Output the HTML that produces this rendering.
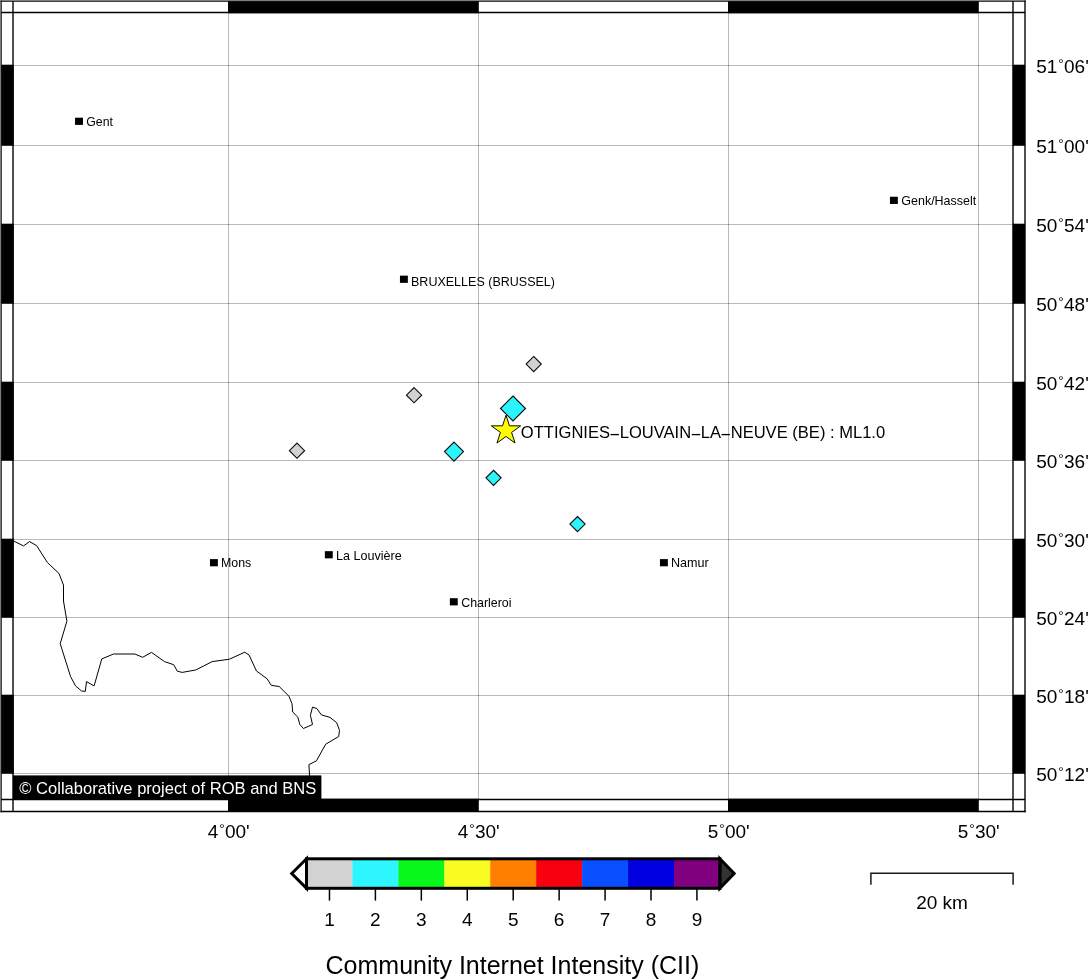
<!DOCTYPE html>
<html lang="en"><head><meta charset="utf-8"><title>Community Internet Intensity (CII)</title>
<style>html,body{margin:0;padding:0;background:#fff}body{width:1088px;height:980px;overflow:hidden}svg{display:block}text{font-family:"Liberation Sans",sans-serif;fill:#000}</style>
</head><body>
<svg width="1088" height="980" viewBox="0 0 1088 980">
<rect width="1088" height="980" fill="#fff"/>
<g stroke="#000" stroke-opacity="0.28" stroke-width="1" fill="none">
<line x1="228.5" y1="12.5" x2="228.5" y2="799.5"/>
<line x1="478.5" y1="12.5" x2="478.5" y2="799.5"/>
<line x1="728.5" y1="12.5" x2="728.5" y2="799.5"/>
<line x1="978.5" y1="12.5" x2="978.5" y2="799.5"/>
<line x1="13.0" y1="65.5" x2="1013.0" y2="65.5"/>
<line x1="13.0" y1="145.5" x2="1013.0" y2="145.5"/>
<line x1="13.0" y1="224.5" x2="1013.0" y2="224.5"/>
<line x1="13.0" y1="303.5" x2="1013.0" y2="303.5"/>
<line x1="13.0" y1="382.5" x2="1013.0" y2="382.5"/>
<line x1="13.0" y1="460.5" x2="1013.0" y2="460.5"/>
<line x1="13.0" y1="539.5" x2="1013.0" y2="539.5"/>
<line x1="13.0" y1="617.5" x2="1013.0" y2="617.5"/>
<line x1="13.0" y1="695.5" x2="1013.0" y2="695.5"/>
<line x1="13.0" y1="773.5" x2="1013.0" y2="773.5"/>
</g>
<polyline fill="none" stroke="#000" stroke-width="1" stroke-linejoin="round" points="13.7,541.0 23.5,545.9 29.6,541.6 36.6,545.6 47.3,562.4 59.0,573.5 63.5,585.1 63.5,601.0 66.9,621.2 60.2,643.7 70.6,676.6 75.5,685.9 81.6,691.0 85.3,691.4 86.5,681.6 94.1,685.9 101.8,658.9 113.5,654.0 134.9,654.0 142.6,657.3 151.5,652.4 164.5,661.6 173.7,664.7 177.3,671.2 182.2,672.4 195.7,670.0 212.2,661.6 229.4,659.2 244.8,652.2 249.1,655.1 256.4,670.9 267.2,678.9 271.2,685.3 279.2,686.5 289.0,696.3 292.0,703.7 292.7,712.0 297.8,717.1 299.8,724.5 303.4,728.5 312.5,724.5 310.4,715.3 312.5,707.1 316.9,708.6 321.4,714.9 330.0,717.4 336.7,722.7 339.5,730.4 338.7,736.5 325.7,744.2 316.4,760.9 308.9,764.6 309.6,776.0"/>
<rect x="75.05" y="117.70" width="7.9" height="7.2" fill="#000"/>
<text x="86.3" y="126" font-size="12.3">Gent</text>
<rect x="889.95" y="196.75" width="7.9" height="7.2" fill="#000"/>
<text x="901.3" y="205" font-size="12.49">Genk/Hasselt</text>
<rect x="399.95" y="275.65" width="7.9" height="7.2" fill="#000"/>
<text x="411.0" y="286" font-size="12.52">BRUXELLES (BRUSSEL)</text>
<rect x="209.95" y="559.10" width="7.9" height="7.2" fill="#000"/>
<text x="221.0" y="567" font-size="12.4">Mons</text>
<rect x="324.85" y="551.15" width="7.9" height="7.2" fill="#000"/>
<text x="336.0" y="560" font-size="12.58">La Louvière</text>
<rect x="449.85" y="598.20" width="7.9" height="7.2" fill="#000"/>
<text x="461.2" y="607" font-size="12.4">Charleroi</text>
<rect x="659.95" y="559.10" width="7.9" height="7.2" fill="#000"/>
<text x="671.0" y="567" font-size="12.58">Namur</text>
<polygon points="506.00,415.20 509.46,425.84 520.65,425.84 511.59,432.42 515.05,443.06 506.00,436.48 496.95,443.06 500.41,432.42 491.35,425.84 502.54,425.84" fill="#ffff00" stroke="#0a0a0a" stroke-width="1.0" stroke-linejoin="miter"/>
<polygon points="533.7,356.45 541.3000000000001,364.05 533.7,371.65000000000003 526.1,364.05" fill="#d2d2d2" stroke="#0a0a0a" stroke-width="1.1"/>
<polygon points="414.05,387.59999999999997 421.65000000000003,395.2 414.05,402.8 406.45,395.2" fill="#d2d2d2" stroke="#0a0a0a" stroke-width="1.1"/>
<polygon points="297.0,443.09999999999997 304.6,450.7 297.0,458.3 289.4,450.7" fill="#d2d2d2" stroke="#0a0a0a" stroke-width="1.1"/>
<polygon points="513.0,396.0 525.5,408.5 513.0,421.0 500.5,408.5" fill="#2bf5fc" stroke="#0a0a0a" stroke-width="1.1"/>
<polygon points="454.0,442.1 463.5,451.6 454.0,461.1 444.5,451.6" fill="#2bf5fc" stroke="#0a0a0a" stroke-width="1.1"/>
<polygon points="493.55,470.25 501.15000000000003,477.85 493.55,485.45000000000005 485.95,477.85" fill="#2bf5fc" stroke="#0a0a0a" stroke-width="1.1"/>
<polygon points="577.5,516.5 585.1,524.1 577.5,531.7 569.9,524.1" fill="#2bf5fc" stroke="#0a0a0a" stroke-width="1.1"/>
<text x="520.85" y="438" font-size="16.56">OTTIGNIES<tspan textLength="11.46" lengthAdjust="spacingAndGlyphs" dx="-0.9" dy="1">-</tspan><tspan dx="-0.9" dy="-1">LOUVAIN</tspan><tspan textLength="11.46" lengthAdjust="spacingAndGlyphs" dx="-0.9" dy="1">-</tspan><tspan dx="-0.9" dy="-1">LA</tspan><tspan textLength="11.46" lengthAdjust="spacingAndGlyphs" dx="-0.9" dy="1">-</tspan><tspan dx="-0.9" dy="-1">NEUVE (BE) : ML1.0</tspan></text>
<rect x="13" y="775.4" width="308.4" height="24.6" fill="#000"/>
<text x="19.3" y="794" font-size="16.55" style="fill:#fff">© Collaborative project of ROB and BNS</text>
<rect x="1.25" y="64.7" width="12.5" height="81.1" fill="#000"/>
<rect x="1.25" y="223.7" width="12.5" height="80.1" fill="#000"/>
<rect x="1.25" y="381.7" width="12.5" height="79.1" fill="#000"/>
<rect x="1.25" y="538.7" width="12.5" height="79.1" fill="#000"/>
<rect x="1.25" y="694.7" width="12.5" height="79.1" fill="#000"/>
<rect x="1012.8" y="64.7" width="12.200000000000045" height="81.1" fill="#000"/>
<rect x="1012.8" y="223.7" width="12.200000000000045" height="80.1" fill="#000"/>
<rect x="1012.8" y="381.7" width="12.200000000000045" height="79.1" fill="#000"/>
<rect x="1012.8" y="538.7" width="12.200000000000045" height="79.1" fill="#000"/>
<rect x="1012.8" y="694.7" width="12.200000000000045" height="79.1" fill="#000"/>
<rect x="228.0" y="1.25" width="250.8" height="12.0" fill="#000"/>
<rect x="728.0" y="1.25" width="250.8" height="12.0" fill="#000"/>
<rect x="228.0" y="798.75" width="250.8" height="12.75" fill="#000"/>
<rect x="728.0" y="798.75" width="250.8" height="12.75" fill="#000"/>
<g stroke="#000" stroke-width="1.5" fill="none">
<line x1="1.1" y1="0.5" x2="1.1" y2="812.25" stroke-width="1.25"/><line x1="0.5" y1="1.15" x2="1025.75" y2="1.15" stroke-width="1.3"/>
<line x1="1025.0" y1="0.5" x2="1025.0" y2="812.25" stroke-width="1.38"/><line x1="0.5" y1="811.5" x2="1025.75" y2="811.5"/>
<line x1="13.0" y1="1.25" x2="13.0" y2="811.5" stroke-width="1.38"/><line x1="1013.0" y1="1.25" x2="1013.0" y2="811.5" stroke-width="1.38"/>
<line x1="1.25" y1="12.5" x2="1025.0" y2="12.5"/><line x1="1.25" y1="799.5" x2="1025.0" y2="799.5"/>
</g>
<text x="1036.25" y="73" font-size="19">51<tspan font-size="13.5" dx="0.9" dy="-5.3">°</tspan><tspan dx="0.35" dy="5.3">06'</tspan></text>
<text x="1036.25" y="153" font-size="19">51<tspan font-size="13.5" dx="0.9" dy="-5.3">°</tspan><tspan dx="0.35" dy="5.3">00'</tspan></text>
<text x="1036.25" y="232" font-size="19">50<tspan font-size="13.5" dx="0.9" dy="-5.3">°</tspan><tspan dx="0.35" dy="5.3">54'</tspan></text>
<text x="1036.25" y="311" font-size="19">50<tspan font-size="13.5" dx="0.9" dy="-5.3">°</tspan><tspan dx="0.35" dy="5.3">48'</tspan></text>
<text x="1036.25" y="390" font-size="19">50<tspan font-size="13.5" dx="0.9" dy="-5.3">°</tspan><tspan dx="0.35" dy="5.3">42'</tspan></text>
<text x="1036.25" y="468" font-size="19">50<tspan font-size="13.5" dx="0.9" dy="-5.3">°</tspan><tspan dx="0.35" dy="5.3">36'</tspan></text>
<text x="1036.25" y="547" font-size="19">50<tspan font-size="13.5" dx="0.9" dy="-5.3">°</tspan><tspan dx="0.35" dy="5.3">30'</tspan></text>
<text x="1036.25" y="625" font-size="19">50<tspan font-size="13.5" dx="0.9" dy="-5.3">°</tspan><tspan dx="0.35" dy="5.3">24'</tspan></text>
<text x="1036.25" y="703" font-size="19">50<tspan font-size="13.5" dx="0.9" dy="-5.3">°</tspan><tspan dx="0.35" dy="5.3">18'</tspan></text>
<text x="1036.25" y="781" font-size="19">50<tspan font-size="13.5" dx="0.9" dy="-5.3">°</tspan><tspan dx="0.35" dy="5.3">12'</tspan></text>
<text x="228.7" y="838" font-size="19" text-anchor="middle">4<tspan font-size="13.5" dx="0.9" dy="-5.3">°</tspan><tspan dx="0.35" dy="5.3">00'</tspan></text>
<text x="478.7" y="838" font-size="19" text-anchor="middle">4<tspan font-size="13.5" dx="0.9" dy="-5.3">°</tspan><tspan dx="0.35" dy="5.3">30'</tspan></text>
<text x="728.7" y="838" font-size="19" text-anchor="middle">5<tspan font-size="13.5" dx="0.9" dy="-5.3">°</tspan><tspan dx="0.35" dy="5.3">00'</tspan></text>
<text x="978.7" y="838" font-size="19" text-anchor="middle">5<tspan font-size="13.5" dx="0.9" dy="-5.3">°</tspan><tspan dx="0.35" dy="5.3">30'</tspan></text>
<rect x="306.50" y="858.8" width="46.23" height="29.5" fill="#d2d2d2"/>
<rect x="352.43" y="858.8" width="46.23" height="29.5" fill="#2ef6ff"/>
<rect x="398.37" y="858.8" width="46.23" height="29.5" fill="#08f81c"/>
<rect x="444.30" y="858.8" width="46.23" height="29.5" fill="#f8fc20"/>
<rect x="490.23" y="858.8" width="46.23" height="29.5" fill="#ff8000"/>
<rect x="536.17" y="858.8" width="46.23" height="29.5" fill="#f80010"/>
<rect x="582.10" y="858.8" width="46.23" height="29.5" fill="#0850ff"/>
<rect x="628.03" y="858.8" width="46.23" height="29.5" fill="#0000e0"/>
<rect x="673.97" y="858.8" width="46.23" height="29.5" fill="#800080"/>
<polygon points="306.5,858.8 291.75,873.55 306.5,888.3" fill="#fff" stroke="#000" stroke-width="3" stroke-miterlimit="10"/>
<polygon points="719.9,858.8 734.15,873.55 719.9,888.3" fill="#333" stroke="#000" stroke-width="3" stroke-miterlimit="10"/>
<rect x="306.5" y="858.8" width="413.4" height="29.5" fill="none" stroke="#000" stroke-width="3"/>
<line x1="329.47" y1="889.3" x2="329.47" y2="900.6" stroke="#000" stroke-width="1.5"/>
<text x="329.47" y="926" font-size="19" text-anchor="middle">1</text>
<line x1="375.40" y1="889.3" x2="375.40" y2="900.6" stroke="#000" stroke-width="1.5"/>
<text x="375.40" y="926" font-size="19" text-anchor="middle">2</text>
<line x1="421.33" y1="889.3" x2="421.33" y2="900.6" stroke="#000" stroke-width="1.5"/>
<text x="421.33" y="926" font-size="19" text-anchor="middle">3</text>
<line x1="467.27" y1="889.3" x2="467.27" y2="900.6" stroke="#000" stroke-width="1.5"/>
<text x="467.27" y="926" font-size="19" text-anchor="middle">4</text>
<line x1="513.20" y1="889.3" x2="513.20" y2="900.6" stroke="#000" stroke-width="1.5"/>
<text x="513.20" y="926" font-size="19" text-anchor="middle">5</text>
<line x1="559.13" y1="889.3" x2="559.13" y2="900.6" stroke="#000" stroke-width="1.5"/>
<text x="559.13" y="926" font-size="19" text-anchor="middle">6</text>
<line x1="605.07" y1="889.3" x2="605.07" y2="900.6" stroke="#000" stroke-width="1.5"/>
<text x="605.07" y="926" font-size="19" text-anchor="middle">7</text>
<line x1="651.00" y1="889.3" x2="651.00" y2="900.6" stroke="#000" stroke-width="1.5"/>
<text x="651.00" y="926" font-size="19" text-anchor="middle">8</text>
<line x1="696.93" y1="889.3" x2="696.93" y2="900.6" stroke="#000" stroke-width="1.5"/>
<text x="696.93" y="926" font-size="19" text-anchor="middle">9</text>
<text x="512.4" y="974" font-size="25.0" text-anchor="middle">Community Internet Intensity (CII)</text>
<polyline points="870.9,884.8 870.9,873.3 1013.1,873.3 1013.1,884.8" fill="none" stroke="#1a1a1a" stroke-width="1.5"/>
<text x="942.0" y="909" font-size="19" text-anchor="middle">20 km</text>
</svg></body></html>
